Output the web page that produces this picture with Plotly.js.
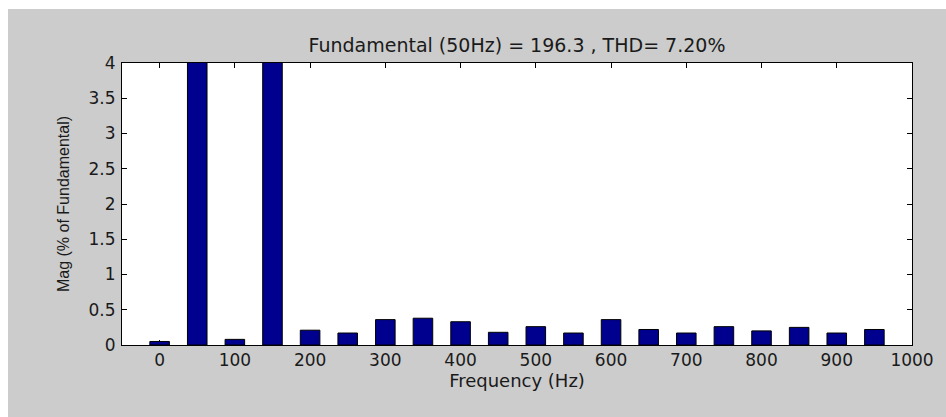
<!DOCTYPE html>
<html>
<head>
<meta charset="utf-8">
<script src="https://cdn.plot.ly/plotly-3.0.1.min.js"></script>
<style>
  html, body { margin: 0; padding: 0; background: #ffffff; width: 946px; height: 417px; overflow: hidden; }
  #chart { position: absolute; left: 8px; top: 9px; width: 938px; height: 408px; }
</style>
</head>
<body>
<div id="chart"></div>
<script>
// Harmonic frequencies (Hz)
const frequencies = [0, 50, 100, 150, 200, 250, 300, 350, 400, 450, 500, 550, 600, 650, 700, 750, 800, 850, 900, 950];
// Magnitude (% of fundamental)
const magnitudes = [0.05, 100, 0.08, 7.13, 0.21, 0.17, 0.36, 0.38, 0.33, 0.18, 0.26, 0.17, 0.36, 0.22, 0.17, 0.26, 0.20, 0.25, 0.17, 0.22];
const xTickVals = [0, 100, 200, 300, 400, 500, 600, 700, 800, 900, 1000];
const yTickVals = [0, 0.5, 1, 1.5, 2, 2.5, 3, 3.5, 4];
const titleText = 'Fundamental (50Hz) = 196.3 , THD= 7.20%';
const xTitle = 'Frequency (Hz)';
const yTitle = 'Mag (% of Fundamental)';

const tickFont = { family: 'DejaVu Sans, Arial, sans-serif', size: 17, color: '#1a1a1a' };
const titleFont = { family: 'DejaVu Sans, Arial, sans-serif', size: 19, color: '#1a1a1a' };
const xLabelFont = { family: 'DejaVu Sans, Arial, sans-serif', size: 18, color: '#1a1a1a' };
const yLabelFont = { family: 'Liberation Sans, Arial, sans-serif', size: 16, color: '#1a1a1a' };

const trace = {
  type: 'bar',
  x: frequencies,
  y: magnitudes,
  width: 26,
  marker: { color: '#00008f', line: { color: '#000000', width: 1 } },
  hoverinfo: 'x+y'
};

const layout = {
  width: 938,
  height: 408,
  paper_bgcolor: '#cccccc',
  plot_bgcolor: '#ffffff',
  margin: { l: 114, r: 34, t: 54, b: 71.5, pad: 0 },
  showlegend: false,
  title: {
    text: titleText,
    font: titleFont,
    x: 0.5, xref: 'paper', xanchor: 'center',
    y: 1 - 36 / 408, yref: 'container', yanchor: 'middle'
  },
  xaxis: {
    range: [-50, 1000],
    tickvals: xTickVals,
    ticktext: xTickVals.map(String),
    ticks: 'inside',
    ticklen: 5,
    tickcolor: '#000000',
    showline: true,
    linecolor: '#000000',
    linewidth: 1,
    mirror: 'ticks',
    showgrid: false,
    zeroline: false,
    layer: 'below traces',
    tickfont: tickFont,
    ticklabelstandoff: 0,
    title: { text: xTitle, font: xLabelFont, standoff: 2 }
  },
  yaxis: {
    range: [0, 4],
    tickvals: yTickVals,
    ticktext: yTickVals.map(String),
    ticks: 'inside',
    ticklen: 5,
    tickcolor: '#000000',
    showline: true,
    linecolor: '#000000',
    linewidth: 1,
    mirror: 'ticks',
    showgrid: false,
    zeroline: false,
    tickfont: tickFont,
    ticklabelstandoff: 2,
    title: { text: yTitle, font: yLabelFont, standoff: 14 }
  }
};

Plotly.newPlot('chart', [trace], layout, { displayModeBar: false, staticPlot: true });
</script>
</body>
</html>
